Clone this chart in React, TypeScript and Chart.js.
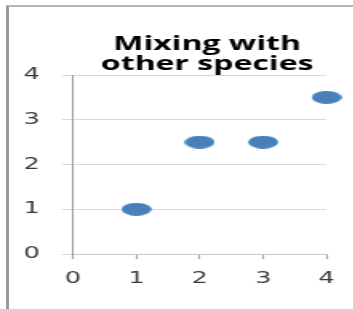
import React, { useEffect, useRef } from "react";
import { Chart, registerables } from "chart.js";

Chart.register(...registerables);

const titleLines = ["Mixing with", "other species"];
const xValues = [1, 2, 3, 4];
const yValues = [1, 2.5, 2.5, 3.5];
const axisMin = 0;
const axisMax = 4;
const axisStep = 1;

const SX = 1.6; // horizontal stretch of the picture
const W = 259;
const H = 309;

export default function App() {
  const ref = useRef<HTMLCanvasElement | null>(null);

  useEffect(() => {
    if (!ref.current) return;
    const dot = document.createElement("canvas");
    dot.width = 19;
    dot.height = 13;
    const dctx = dot.getContext("2d")!;
    dctx.fillStyle = "#4A7EBB";
    dctx.beginPath();
    dctx.ellipse(9.5, 6.5, 9.4, 6.4, 0, 0, Math.PI * 2);
    dctx.fill();

    const chart = new Chart(ref.current, {
      type: "scatter",
      data: {
        datasets: [
          {
            data: xValues.map((x, i) => ({ x, y: yValues[i] })),
            pointStyle: dot as any,
            backgroundColor: "#4A7EBB",
            borderColor: "#4A7EBB",
            clip: false as any,
          },
        ],
      },
      options: {
        responsive: false,
        animation: false,
        layout: { padding: 0 },
        plugins: {
          legend: { display: false },
          tooltip: { enabled: false },
          title: {
            display: true,
            text: titleLines,
            color: "#000",
            font: { family: "'Open Sans'", size: 20, weight: "bold", lineHeight: 1.0 },
            padding: { top: 34, bottom: 1 },
          },
        },
        scales: {
          x: {
            type: "linear",
            min: axisMin,
            max: axisMax,
            ticks: {
              stepSize: axisStep,
              color: "#3a3a3a",
              font: { family: "'DejaVu Sans'", size: 16 },
              padding: 10,
              maxRotation: 0,
            },
            grid: { drawOnChartArea: false, drawTicks: true, tickLength: 5, color: "#9a9a9a" },
            border: { color: "#c8c8c8" },
            afterFit: (s: any) => {
              s.height = 55;
            },
          },
          y: {
            type: "linear",
            min: axisMin,
            max: axisMax,
            ticks: {
              stepSize: axisStep,
              color: "#3a3a3a",
              font: { family: "'DejaVu Sans'", size: 16 },
              padding: 13.6,
            },
            grid: { color: "#d9d9d9", tickLength: 7 },
            border: { color: "#9a9a9a" },
            afterFit: (s: any) => {
              s.width = 45.6;
            },
          },
          y2: {
            type: "linear",
            position: "right",
            display: true,
            grid: { display: false, drawTicks: false },
            ticks: { display: false },
            border: { display: false },
            afterFit: (s: any) => {
              s.width = 54.9;
            },
          },
        },
      },
    });
    return () => chart.destroy();
  }, []);

  return (
    <div style={{ position: "fixed", left: 0, top: 0, width: 353, height: 309, overflow: "hidden", background: "#fff" }}>
      <div
        style={{
          position: "absolute",
          left: 6,
          top: 5,
          right: -10,
          bottom: -10,
          borderLeft: "3px solid #9a9a9a",
          borderTop: "2px solid #b4b4b4",
        }}
      />
      <canvas
        ref={ref}
        width={W}
        height={H}
        style={{ position: "absolute", left: 0, top: 0, transform: `scaleX(${SX})`, transformOrigin: "0 0" }}
      />
    </div>
  );
}
